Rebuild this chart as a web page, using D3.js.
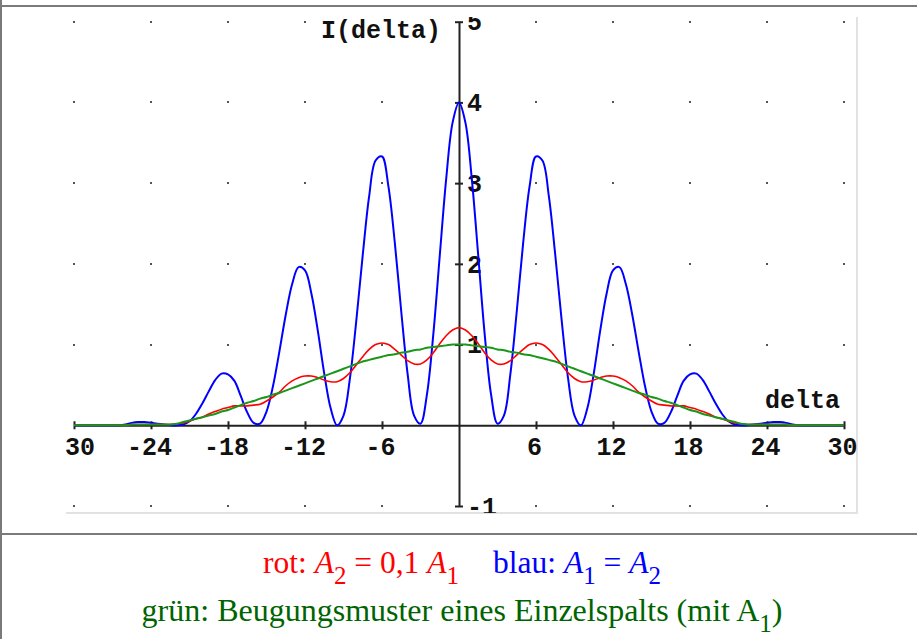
<!DOCTYPE html>
<html>
<head>
<meta charset="utf-8">
<script src="https://cdn.jsdelivr.net/npm/d3@7"></script>
<style>
  body { margin: 0; background: #fff; }
  svg { display: block; }
</style>
</head>
<body>
<div id="chart"></div>
<script>
// sample positions (delta) and intensities
const delta = [-30,-29.5,-29,-28.5,-28,-27.5,-27,-26.5,-26,-25.5,-25,-24.5,-24,-23.5,-23,-22.5,-22,-21.5,-21,-20.5,
  -20,-19.5,-19,-18.5,-18,-17.5,-17,-16.5,-16,-15.5,-15,-14.5,-14,-13.5,-13,-12.5,-12,-11.5,-11,-10.5,
  -10,-9.5,-9,-8.5,-8,-7.5,-7,-6.5,-6,-5.5,-5,-4.5,-4,-3.5,-3,-2.5,-2,-1.5,-1,-0.5,
  0,0.5,1,1.5,2,2.5,3,3.5,4,4.5,5,5.5,6,6.5,7,7.5,8,8.5,9,9.5,
  10,10.5,11,11.5,12,12.5,13,13.5,14,14.5,15,15.5,16,16.5,17,17.5,18,18.5,19,19.5,
  20,20.5,21,21.5,22,22.5,23,23.5,24,24.5,25,25.5,26,26.5,27,27.5,28,28.5,29,29.5,30];

// blau: A1 = A2
const blue = [0,0,0,0,0,0,0,0,0.01,0.03,0.04,0.04,0.03,0.02,0.01,0,0,0.01,0.05,0.14,
  0.27,0.42,0.56,0.64,0.63,0.55,0.36,0.16,0.03,0.02,0.17,0.48,0.91,1.37,1.75,1.96,1.92,1.63,1.17,0.64,
  0.21,0.00,0.12,0.58,1.30,2.11,2.84,3.28,3.33,2.96,2.26,1.41,0.63,0.12,0.02,0.38,1.13,2.10,3.05,3.75,
  4.00,3.75,3.05,2.10,1.13,0.38,0.02,0.12,0.63,1.41,2.26,2.96,3.33,3.28,2.84,2.11,1.30,0.58,0.12,0.00,
  0.21,0.64,1.17,1.63,1.92,1.96,1.75,1.37,0.91,0.48,0.17,0.02,0.03,0.16,0.36,0.55,0.63,0.64,0.56,0.42,
  0.27,0.14,0.05,0.01,0,0,0.01,0.02,0.03,0.04,0.04,0.03,0.01,0,0,0,0,0,0,0,0];

// rot: A2 = 0,1 A1
const red = [0,0,0,0,0,0,0,0,0,0.01,0.01,0.01,0.01,0.01,0.01,0.01,0.02,0.03,0.05,0.08,
  0.10,0.14,0.17,0.20,0.22,0.24,0.24,0.24,0.25,0.26,0.30,0.35,0.41,0.49,0.55,0.59,0.61,0.61,0.59,0.56,
  0.54,0.54,0.58,0.65,0.75,0.85,0.94,1.00,1.02,1.00,0.94,0.87,0.80,0.76,0.76,0.81,0.90,1.01,1.11,1.18,
  1.21,1.18,1.11,1.01,0.90,0.81,0.76,0.76,0.80,0.87,0.94,1.00,1.02,1.00,0.94,0.85,0.75,0.65,0.58,0.54,
  0.54,0.56,0.59,0.61,0.61,0.59,0.55,0.49,0.41,0.35,0.30,0.26,0.25,0.24,0.24,0.24,0.22,0.20,0.17,0.14,
  0.10,0.08,0.05,0.03,0.02,0.01,0.01,0.01,0.01,0.01,0.01,0.01,0,0,0,0,0,0,0,0,0];

// grün: Einzelspalt
const green = [0,0,0,0,0,0,0,0,0,0.01,0.01,0.01,0.01,0.01,0.01,0.01,0.02,0.04,0.06,0.08,
  0.10,0.12,0.14,0.17,0.19,0.22,0.25,0.28,0.30,0.33,0.35,0.38,0.40,0.43,0.46,0.49,0.52,0.55,0.58,0.61,
  0.64,0.67,0.70,0.73,0.76,0.79,0.81,0.83,0.85,0.87,0.88,0.90,0.91,0.93,0.94,0.96,0.97,0.98,0.99,1.00,
  1.00,1.00,0.99,0.98,0.97,0.96,0.94,0.93,0.91,0.90,0.88,0.87,0.85,0.83,0.81,0.79,0.76,0.73,0.70,0.67,
  0.64,0.61,0.58,0.55,0.52,0.49,0.46,0.43,0.40,0.38,0.35,0.33,0.30,0.28,0.25,0.22,0.19,0.17,0.14,0.12,
  0.10,0.08,0.06,0.04,0.02,0.01,0.01,0.01,0.01,0.01,0.01,0.01,0,0,0,0,0,0,0,0,0];

const xTicks = [-30, -24, -18, -12, -6, 6, 12, 18, 24, 30];
const yTicks = [-1, 1, 2, 3, 4, 5];

const W = 917, H = 639;
const mono = '"Liberation Mono", "DejaVu Sans Mono", monospace';
const serif = '"Liberation Serif", "Times New Roman", serif';

const svg = d3.select('#chart').append('svg')
  .attr('width', W).attr('height', H)
  .attr('viewBox', `0 0 ${W} ${H}`);

// table frame
svg.append('rect').attr('x', 0).attr('y', 0).attr('width', 2).attr('height', H).attr('fill', '#7a7a7a');
svg.append('rect').attr('x', 0).attr('y', 5).attr('width', W).attr('height', 2).attr('fill', '#7a7a7a');
svg.append('rect').attr('x', 0).attr('y', 533).attr('width', W).attr('height', 2).attr('fill', '#7a7a7a');

// plot picture area
const box = { left: 66, top: 17, right: 857, bottom: 513 };
svg.append('defs').append('clipPath').attr('id', 'plotclip')
  .append('rect')
  .attr('x', box.left).attr('y', box.top)
  .attr('width', box.right - box.left).attr('height', box.bottom - box.top);

svg.append('line').attr('x1', box.right).attr('x2', box.right).attr('y1', box.top).attr('y2', box.bottom + 1)
  .attr('stroke', '#e2e2e2').attr('stroke-width', 2);
svg.append('line').attr('x1', box.left).attr('x2', box.right + 1).attr('y1', box.bottom).attr('y2', box.bottom)
  .attr('stroke', '#e2e2e2').attr('stroke-width', 2);

const plot = svg.append('g').attr('clip-path', 'url(#plotclip)');

const x = d3.scaleLinear().domain([-30, 30]).range([74, 844]);
const y = d3.scaleLinear().domain([-1, 5]).range([506, 21.7]);

// dotted grid
const dots = [];
for (const xv of xTicks) for (const yv of yTicks) dots.push([xv, yv]);
plot.append('g').selectAll('rect').data(dots).join('rect')
  .attr('x', d => Math.round(x(d[0])) - 1)
  .attr('y', d => Math.round(y(d[1])) - 1)
  .attr('width', 2).attr('height', 2)
  .attr('fill', '#555');

// x axis
const gx = plot.append('g').attr('transform', `translate(0,${y(0)})`)
  .call(d3.axisBottom(x).tickValues(xTicks).tickSize(0).tickPadding(0).tickFormat(d => String(d)));
gx.select('.domain').attr('stroke', '#222').attr('stroke-width', 2);
gx.selectAll('.tick line').attr('y1', -4).attr('y2', 4).attr('stroke', '#222').attr('stroke-width', 2);
gx.selectAll('.tick text')
  .attr('y', 30).attr('dy', 0).attr('dx', -2)
  .attr('fill', '#111')
  .style('font-family', mono).style('font-weight', 'bold').style('font-size', '25px');

// y axis
const gy = plot.append('g').attr('transform', `translate(${x(0)},0)`)
  .call(d3.axisRight(y).tickValues(yTicks).tickSize(0).tickPadding(0).tickFormat(d => String(d)));
gy.select('.domain').attr('stroke', '#222').attr('stroke-width', 2);
gy.selectAll('.tick line').attr('x1', -4).attr('x2', 4).attr('stroke', '#222').attr('stroke-width', 2);
gy.selectAll('.tick text')
  .attr('x', 8).attr('dy', '0.33em')
  .attr('fill', '#111')
  .style('font-family', mono).style('font-weight', 'bold').style('font-size', '25px');

// axis titles
const ylab = plot.append('g');
ylab.append('rect').attr('x', 318).attr('y', 19).attr('width', 130).attr('height', 24).attr('fill', '#fff');
ylab.append('text').attr('x', 321).attr('y', 38)
  .attr('fill', '#111')
  .style('font-family', mono).style('font-weight', 'bold').style('font-size', '25px')
  .text('I(delta)');
plot.append('text').attr('x', 765).attr('y', 408)
  .attr('fill', '#111')
  .style('font-family', mono).style('font-weight', 'bold').style('font-size', '25px')
  .text('delta');

// curves
const line = vals => d3.line()
  .x((d, i) => x(delta[i]))
  .y(d => y(d))
  .curve(d3.curveCatmullRom.alpha(0.5))(vals);

plot.append('path').attr('d', line(blue)).attr('fill', 'none').attr('stroke', '#0000ff').attr('stroke-width', 2);
plot.append('path').attr('d', line(red)).attr('fill', 'none').attr('stroke', '#ff0000').attr('stroke-width', 1.6);
plot.append('path').attr('d', line(green)).attr('fill', 'none').attr('stroke', '#1a961a').attr('stroke-width', 2);

// caption
function caption(yPos, size, parts) {
  const t = svg.append('text')
    .attr('x', 462).attr('y', yPos)
    .attr('text-anchor', 'middle')
    .style('font-family', serif).style('font-size', size + 'px')
    .style('white-space', 'pre');
  let low = false;
  for (const p of parts) {
    const s = t.append('tspan').attr('fill', p.c).text(p.t);
    if (p.i) s.style('font-style', 'italic');
    if (p.sub && !low) { s.attr('dy', 11); low = true; }
    if (!p.sub && low) { s.attr('dy', -11); low = false; }
    if (p.sub) s.style('font-size', Math.round(size * 0.78) + 'px');
    if (p.dx) s.attr('dx', p.dx);
  }
}

caption(573, 31.5, [
  { t: 'rot: ', c: '#ff0000' },
  { t: 'A', c: '#ff0000', i: true },
  { t: '2', c: '#ff0000', sub: true },
  { t: ' = 0,1 ', c: '#ff0000' },
  { t: 'A', c: '#ff0000', i: true },
  { t: '1', c: '#ff0000', sub: true },
  { t: 'blau: ', c: '#0000ff', dx: 34 },
  { t: 'A', c: '#0000ff', i: true },
  { t: '1', c: '#0000ff', sub: true },
  { t: ' = ', c: '#0000ff' },
  { t: 'A', c: '#0000ff', i: true },
  { t: '2', c: '#0000ff', sub: true }
]);

caption(621, 32, [
  { t: 'grün: Beugungsmuster eines Einzelspalts (mit A', c: '#006400' },
  { t: '1', c: '#006400', sub: true },
  { t: ')', c: '#006400' }
]);
</script>
</body>
</html>
